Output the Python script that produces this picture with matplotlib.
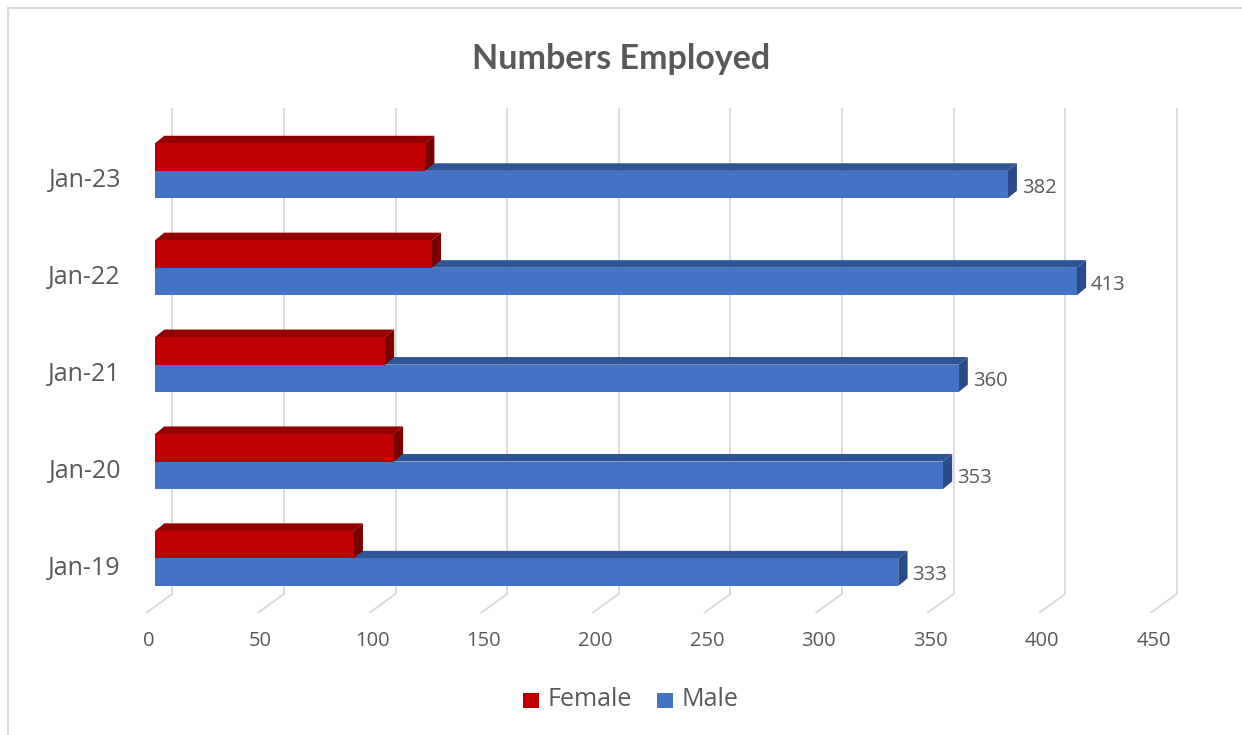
import matplotlib
matplotlib.use("Agg")
import matplotlib.pyplot as plt
from matplotlib.patches import Polygon, Rectangle

categories = ["Jan-19", "Jan-20", "Jan-21", "Jan-22", "Jan-23"]
female = [89, 107, 103, 124, 121]
male = [333, 353, 360, 413, 382]
xticks = [0, 50, 100, 150, 200, 250, 300, 350, 400, 450]

W, H = 1242, 735
fig = plt.figure(figsize=(W / 100, H / 100), dpi=100)
ax = fig.add_axes([0, 0, 1, 1])
ax.set_axis_off()

# pixel geometry of the 3D projection
SX = 2.232      # px per value unit
X0 = 155.0      # px position of value 0 at bar front
SY = 96.9       # px per category
Y0 = 572.2      # px (from top) of first category male bar centre
ax.set_xlim(-X0 / SX, (W - X0) / SX)
ax.set_ylim((Y0 - H) / SY, Y0 / SY)

def py(p):  # pixel-from-top to category units
    return (Y0 - p) / SY

bh = 27.5 / SY
DX = 9.3 / SX
DY = 7.6 / SY
grid_c = "#D9D9D9"
txt_c = "#595959"

# back wall gridlines and floor ticks
back_off = 17.3 / SX
front_off = -8.3 / SX
for v in xticks:
    ax.plot([v + back_off, v + back_off], [py(594), py(108)], color=grid_c, lw=1.3, zorder=1,
            solid_capstyle="butt")
    ax.plot([v + back_off, v + front_off], [py(594), py(612.5)], color=grid_c, lw=1.3, zorder=1)
    ax.text(v - 6 / SX, py(641), str(v), ha="center", va="center", fontsize=14.5,
            color=txt_c, family="Open Sans")

fc_front, fc_top, fc_side = "#C00000", "#930000", "#7A0000"
mc_front, mc_top, mc_side = "#4472C4", "#2F5597", "#2A4B88"

for i, (cat, f, m) in enumerate(zip(categories, female, male)):
    c = i
    # male top & side
    mt = c + bh / 2
    mb = c - bh / 2
    ax.add_patch(Polygon([(0, mt), (DX, mt + DY), (m + DX, mt + DY), (m, mt)],
                         closed=True, fc=mc_top, ec="none", zorder=2))
    ax.add_patch(Polygon([(m, mt), (m + DX, mt + DY), (m + DX, mb + DY), (m, mb)],
                         closed=True, fc=mc_side, ec="none", zorder=2))
    # female top & side
    ft = mt + bh
    fb = mt
    ax.add_patch(Polygon([(0, ft), (DX, ft + DY), (f + DX, ft + DY), (f, ft)],
                         closed=True, fc=fc_top, ec="none", zorder=3))
    ax.add_patch(Polygon([(f, ft), (f + DX, ft + DY), (f + DX, fb + DY), (f, fb)],
                         closed=True, fc=fc_side, ec="none", zorder=3))
    # category label
    ax.text(-34 / SX, c + 4 / SY, cat, ha="right", va="center", fontsize=18,
            color=txt_c, family="Open Sans")
    # data label
    ax.text(m + (9.3 + 5.0) / SX, c - 3 / SY, str(m), ha="left", va="center", fontsize=14.5,
            color=txt_c, family="Open Sans")

ys = list(range(len(categories)))
ax.barh([y + bh for y in ys], female, height=bh, left=0, color=fc_front, zorder=4, linewidth=0)
ax.barh(ys, male, height=bh, left=0, color=mc_front, zorder=5, linewidth=0)

# title
fig.text(621 / W, 1 - 59 / H, "Numbers Employed", ha="center", va="center", fontsize=24.5,
         fontweight="bold", color=txt_c, family="Lato")

# legend
def fig_rect(x0, y0, x1, y1, color):
    fig.patches.append(Rectangle((x0 / W, 1 - y1 / H), (x1 - x0) / W, (y1 - y0) / H,
                                 transform=fig.transFigure, fc=color, ec="none"))

fig_rect(522.7, 692.7, 539.3, 708.3, fc_front)
fig.text(547 / W, 1 - 700 / H, "Female", ha="left", va="center", fontsize=18, color=txt_c,
         family="Open Sans")
fig_rect(656.7, 692.7, 673.3, 708.3, mc_front)
fig.text(682 / W, 1 - 700 / H, "Male", ha="left", va="center", fontsize=18, color=txt_c,
         family="Open Sans")

# chart border (left and top edges visible; right/bottom fall outside the crop)
fig.patches.append(Rectangle((7.5 / W, -10 / H), (W + 20) / W, (H - 7.5 + 10) / H,
                             transform=fig.transFigure, fc="none", ec="#D9D9D9", lw=1.5))

fig.savefig("out.png", dpi=100, facecolor="white")
